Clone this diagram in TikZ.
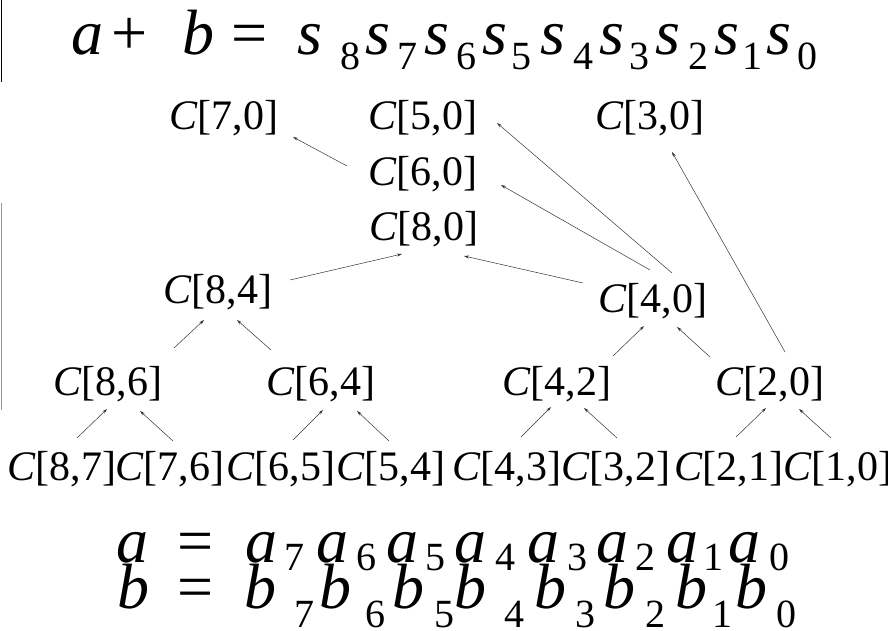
\documentclass[tikz,border=0pt]{standalone}
\usepackage{fontspec}
\setmainfont{Liberation Serif}
\usetikzlibrary{arrows.meta}
\begin{document}
\begin{tikzpicture}[x=1pt,y=1pt]
\tikzset{
  cn/.style={anchor=base, inner sep=0pt, font=\fontsize{42}{50}\selectfont},
  big/.style={anchor=base, inner sep=0pt, font=\fontsize{64}{70}\selectfont\itshape},
  bigup/.style={anchor=base, inner sep=0pt, font=\fontsize{64}{70}\selectfont},
  sub/.style={anchor=base, inner sep=0pt, font=\fontsize{40}{48}\selectfont},
  arr/.style={-{Stealth[length=5pt,width=3pt]}, line width=0.5pt, black!80},
}
\useasboundingbox (0,0) rectangle (888,631);
% left edge lines
\draw[black, line width=1pt] (1.5,631) -- (1.5,549);
\draw[black!40, line width=1pt] (1,428) -- (1,221);
% top formula
\node[big] (ta) at (87.5,576) {a};
\node[bigup] (tp) at (129.5,576) {+};
\node[big] (tb) at (198,576) {b};
\node[bigup] (te) at (249.5,576) {=};
\foreach \x/\n in {310/8,378/7,437/6,495/5,553/4,612/3,668/2,727/1,779/0}
  \node[big] (s\n) at (\x,576) {s};
\foreach \x/\n in {350/8,407.5/7,466.5/6,521.5/5,583.5/4,639.5/3,698.5/2,752.5/1,807.5/0}
  \node[sub] (ds\n) at (\x,561) {\n};
% tree nodes
\node[cn] (n70) at (224,501) {\textit{C}[7,0]};
\node[cn] (n50) at (423,501) {\textit{C}[5,0]};
\node[cn] (n30) at (650,501) {\textit{C}[3,0]};
\node[cn] (n60) at (423,445) {\textit{C}[6,0]};
\node[cn] (n80) at (424,390) {\textit{C}[8,0]};
\node[cn] (n84) at (218,327) {\textit{C}[8,4]};
\node[cn] (n40) at (653,318) {\textit{C}[4,0]};
\node[cn] (n86) at (108,235) {\textit{C}[8,6]};
\node[cn] (n64) at (321,235) {\textit{C}[6,4]};
\node[cn] (n42) at (557,235) {\textit{C}[4,2]};
\node[cn] (n20) at (770,235) {\textit{C}[2,0]};
\node[cn] (b87) at (62,150) {\textit{C}[8,7]};
\node[cn] (b76) at (170,150) {\textit{C}[7,6]};
\node[cn] (b65) at (281,150) {\textit{C}[6,5]};
\node[cn] (b54) at (391,150) {\textit{C}[5,4]};
\node[cn] (b43) at (507,150) {\textit{C}[4,3]};
\node[cn] (b32) at (616,150) {\textit{C}[3,2]};
\node[cn] (b21) at (729,150) {\textit{C}[2,1]};
\node[cn] (b10) at (838,150) {\textit{C}[1,0]};
% arrows
\draw[arr] ([shift={(-76,20)}]n60.base) -- ([shift={(69,-7)}]n70.base);
\draw[arr] ([shift={(19,40)}]n40.base) -- ([shift={(74,7)}]n50.base);
\draw[arr] ([shift={(-3,43)}]n40.base) -- ([shift={(78,1)}]n60.base);
\draw[arr] ([shift={(-70,30)}]n40.base) -- ([shift={(40,-15)}]n80.base);
\draw[arr] ([shift={(72,24)}]n84.base) -- ([shift={(-22,-13)}]n80.base);
\draw[arr] ([shift={(15,44)}]n20.base) -- ([shift={(22,-22)}]n30.base);
\draw[arr] ([shift={(56,40)}]n42.base) -- ([shift={(-9,-13)}]n40.base);
\draw[arr] ([shift={(-60,39)}]n20.base) -- ([shift={(24,-14)}]n40.base);
\draw[arr] ([shift={(66,48)}]n86.base) -- ([shift={(-14,-16)}]n84.base);
\draw[arr] ([shift={(-50,46)}]n64.base) -- ([shift={(19,-16)}]n84.base);
\draw[arr] ([shift={(15,43)}]b87.base) -- ([shift={(-1,-13)}]n86.base);
\draw[arr] ([shift={(3,40)}]b76.base) -- ([shift={(32,-15)}]n86.base);
\draw[arr] ([shift={(12,41)}]b65.base) -- ([shift={(2,-14)}]n64.base);
\draw[arr] ([shift={(-2,40)}]b54.base) -- ([shift={(36,-15)}]n64.base);
\draw[arr] ([shift={(14,44)}]b43.base) -- ([shift={(-6,-11)}]n42.base);
\draw[arr] ([shift={(1,43)}]b32.base) -- ([shift={(27,-12)}]n42.base);
\draw[arr] ([shift={(7,44)}]b21.base) -- ([shift={(-4,-12)}]n20.base);
\draw[arr] ([shift={(-7,43)}]b10.base) -- ([shift={(29,-13)}]n20.base);
% bottom formulas
\node[big] (la) at (132,68) {a};
\node[bigup] (lae) at (196,68) {=};
\foreach \x/\n in {261/7,332/6,402.5/5,470/4,543/3,612.5/2,682/1,744/0}
  \node[big] (a\n) at (\x,68) {a};
\foreach \x/\n in {294/7,366/6,435/5,505.5/4,577.5/3,645.5/2,713/1,779.5/0}
  \node[sub] (da\n) at (\x,60) {\n};
\node[big] (lb) at (133,22) {b};
\node[bigup] (lbe) at (196,22) {=};
\foreach \x/\n in {260/7,335/6,408/5,470/4,550/3,619/2,691.5/1,751/0}
  \node[big] (bb\n) at (\x,22) {b};
\foreach \x/\n in {304.5/7,375/6,444.5/5,514.5/4,585/3,655/2,722/1,786.5/0}
  \node[sub] (db\n) at (\x,3.5) {\n};
\end{tikzpicture}
\end{document}
